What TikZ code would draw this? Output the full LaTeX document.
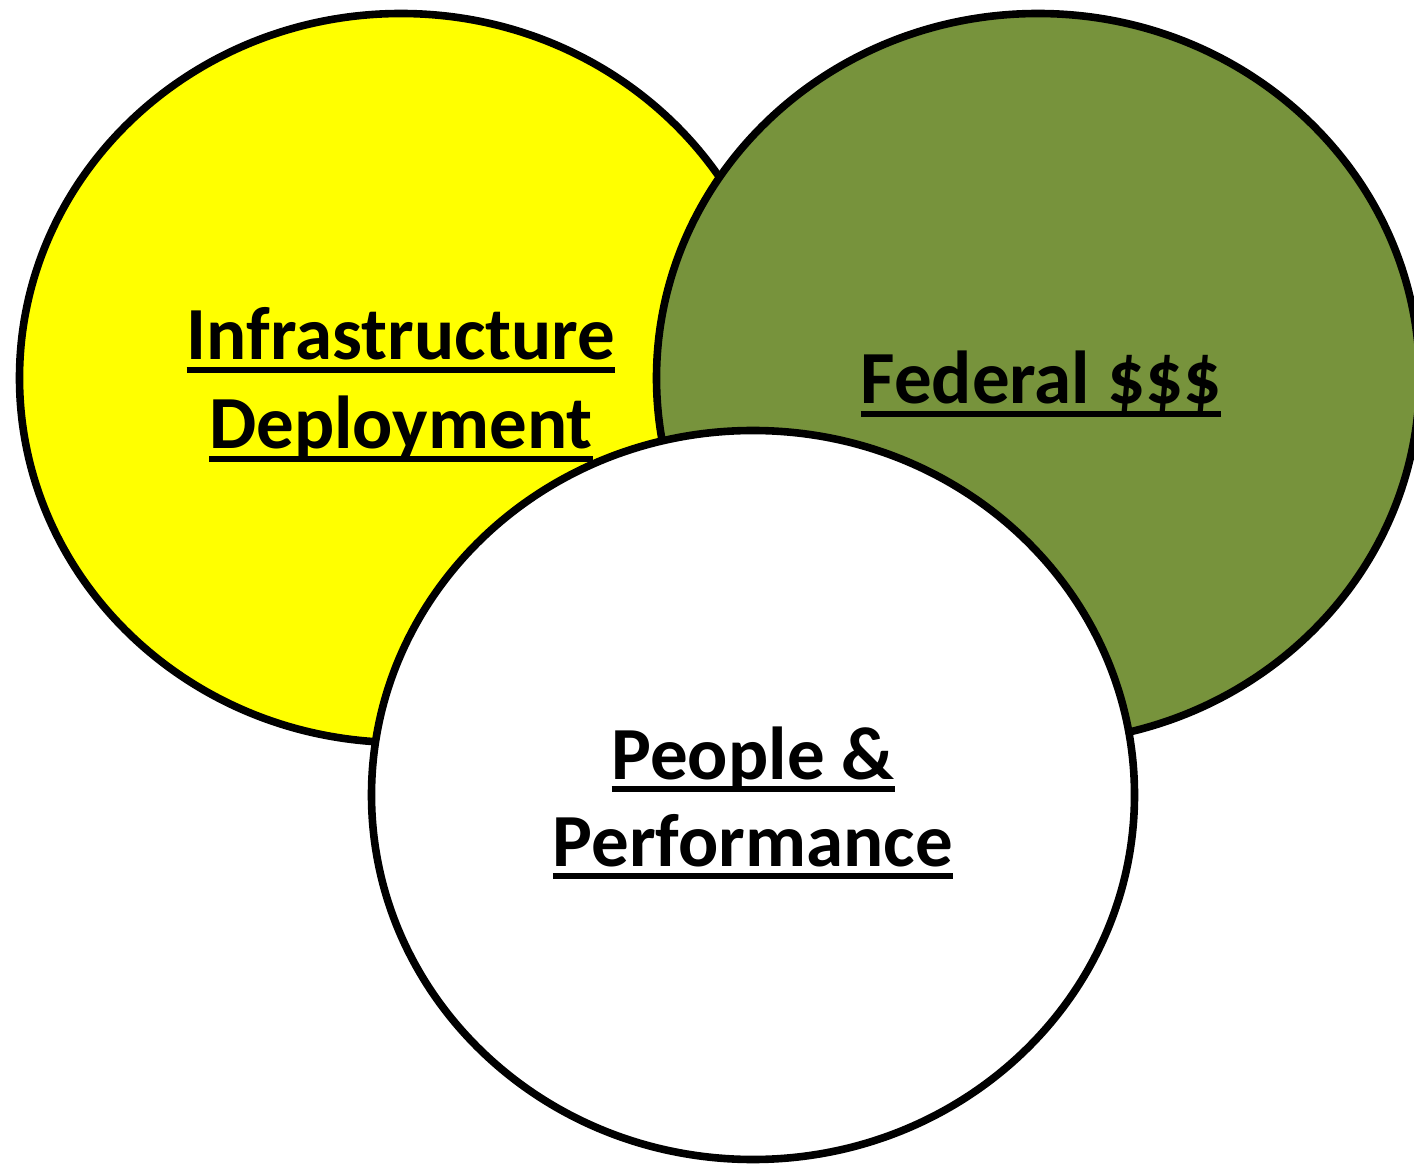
\documentclass[tikz,border=0pt]{standalone}
\usepackage{fontspec}
\setmainfont{Carlito}
\usetikzlibrary{shapes.geometric}
\definecolor{olivegreen}{HTML}{77933C}
\definecolor{brightyellow}{HTML}{FFFF00}
\newcommand{\ulword}[1]{\setbox0\hbox{#1}\rlap{\rule[-6.5pt]{\wd0}{3pt}}\box0}
\tikzset{
  venn/.style={ellipse, draw=black, line width=3.8pt, inner sep=0pt,
    minimum width=381.5pt, minimum height=364.5pt},
  lbl/.style={anchor=base, font=\bfseries\fontsize{37.5}{45}\selectfont, inner sep=0pt}
}
\begin{document}
\begin{tikzpicture}[x=0.5pt,y=-0.5pt]
\useasboundingbox (0,0) rectangle (1414,1165);
\node[venn, fill=brightyellow] (infra) at (401,378) {};
\node[venn, fill=olivegreen] (fed) at (1038,378) {};
\node[venn, fill=white] (people) at (753,795) {};
\node[lbl] (t1) at (401,360) {\ulword{Infrastructure}};
\node[lbl] (t2) at (401,449) {\ulword{Deployment}};
\node[lbl] (t3) at (1041,404) {\ulword{Federal \$\$\$}};
\node[lbl] (t4) at (753,779) {\ulword{People \&}};
\node[lbl] (t5) at (753,866) {\ulword{Performance}};
\end{tikzpicture}
\end{document}
